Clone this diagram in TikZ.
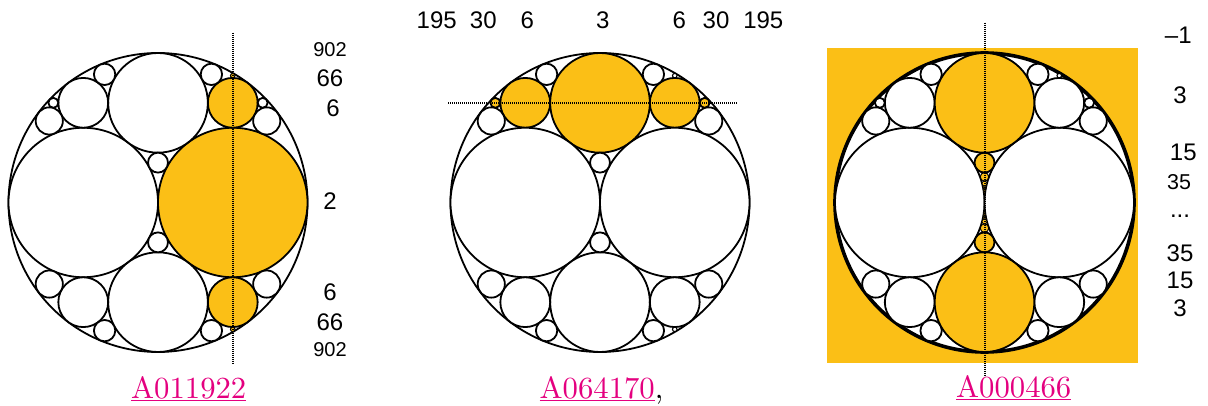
\documentclass[tikz,border=0pt]{standalone}
\usepackage{fontspec}
\newfontfamily\arialfont{Liberation Sans}
\newfontfamily\lmten{lmroman10-regular}[Extension=.otf]
\definecolor{gold}{RGB}{251,191,22}
\definecolor{linkpink}{RGB}{228,0,127}
\tikzset{
  circ/.style={draw=black, line width=1.8pt, fill=white},
  gcirc/.style={circ, fill=gold},
  tinygold/.style={draw=black, line width=1.1pt, fill=gold},
  tinywhite/.style={draw=black, line width=1.1pt, fill=white},
  seqline/.style={line width=1.7pt, dash pattern=on 1.1pt off 0.9pt},
  lab/.style={font=\arialfont\fontsize{24}{28}\selectfont, inner sep=0pt},
  slab/.style={font=\arialfont\fontsize{20}{24}\selectfont, inner sep=0pt},
  mlab/.style={font=\arialfont\fontsize{21.5}{24}\selectfont, inner sep=0pt},
  link/.style={font=\lmten\fontsize{30.7}{36}\selectfont, text=linkpink, inner sep=0pt, anchor=base west},
}
\newcommand\whitecircs[1]{\foreach \cx/\cy/\r in {#1} {\draw[circ] (\cx,\cy) circle[radius=\r];}}
\newcommand\goldcircs[1]{\foreach \cx/\cy/\r in {#1} {\draw[gcirc] (\cx,\cy) circle[radius=\r];}}
\newcommand\elevens{-0.72727/0.54545/0.090909, 0.72727/0.54545/0.090909, -0.72727/-0.54545/0.090909, 0.72727/-0.54545/0.090909}
\newcommand\fourteens{-0.35714/0.85714/0.071429, 0.35714/0.85714/0.071429, -0.35714/-0.85714/0.071429, 0.35714/-0.85714/0.071429}
\begin{document}
\begin{tikzpicture}[x=1pt,y=-1pt]
\path[use as bounding box] (0,0) rectangle (1208,406);

% ---------------- panel 1 ----------------
\begin{scope}[shift={(158,202.5)}, x=149.5pt, y=149.5pt]
  \draw[circ] (0,0) circle[radius=1];
  \goldcircs{0.5/0/0.5, 0.5/0.66667/0.166667, 0.5/-0.66667/0.166667}
  \whitecircs{-0.5/0/0.5, 0/0.66667/0.333333, 0/-0.66667/0.333333,
    -0.5/0.66667/0.166667, -0.5/-0.66667/0.166667,
    0/0.26667/0.066667, 0/-0.26667/0.066667,
    -0.7/0.66667/0.033333, 0.7/0.66667/0.033333}
  \foreach \cx/\cy/\r in \elevens {\draw[circ] (\cx,\cy) circle[radius=\r];}
  \foreach \cx/\cy/\r in \fourteens {\draw[circ] (\cx,\cy) circle[radius=\r];}
  \draw[tinygold] (0.5,0.84848) circle[radius=0.015152];
  \draw[tinygold] (0.5,-0.84848) circle[radius=0.015152];
\end{scope}
\coordinate (v1a) at (232.75,32.7);
\coordinate (v1b) at (232.75,363.3);
\draw[seqline] (v1a) -- (v1b);
\node[slab] (p1a) at (330,49.5) {902};
\node[lab] (p1b) at (330,78.3) {66};
\node[lab] (p1c) at (333,108.3) {6};
\node[lab] (p1d) at (330,201) {2};
\node[lab] (p1e) at (330,292.7) {6};
\node[lab] (p1f) at (330,322.7) {66};
\node[slab] (p1g) at (330,350) {902};
\node[link] (link1) at (131,398) {\underline{A011922}};

% ---------------- panel 2 ----------------
\begin{scope}[shift={(600,202.5)}, x=149.5pt, y=149.5pt]
  \draw[circ] (0,0) circle[radius=1];
  \goldcircs{0/0.66667/0.333333, -0.5/0.66667/0.166667, 0.5/0.66667/0.166667,
    -0.7/0.66667/0.033333, 0.7/0.66667/0.033333}
  \whitecircs{-0.5/0/0.5, 0.5/0/0.5, 0/-0.66667/0.333333,
    -0.5/-0.66667/0.166667, 0.5/-0.66667/0.166667,
    0/0.26667/0.066667, 0/-0.26667/0.066667}
  \foreach \cx/\cy/\r in \elevens {\draw[circ] (\cx,\cy) circle[radius=\r];}
  \foreach \cx/\cy/\r in \fourteens {\draw[circ] (\cx,\cy) circle[radius=\r];}
  \draw[tinywhite] (0.5,0.84848) circle[radius=0.015152];
  \draw[tinywhite] (0.5,-0.84848) circle[radius=0.015152];
\end{scope}
\coordinate (h2a) at (448.3,102.8);
\coordinate (h2b) at (736.7,102.8);
\draw[seqline] (h2a) -- (h2b);
\node[lab] (p2a) at (436.7,20.7) {195};
\node[lab] (p2b) at (483.3,20.7) {30};
\node[lab] (p2c) at (527.3,20.7) {6};
\node[lab] (p2d) at (602.7,20.7) {3};
\node[lab] (p2e) at (679.3,20.7) {6};
\node[lab] (p2f) at (716,20.7) {30};
\node[lab] (p2g) at (763.3,20.7) {195};
\node[link] (link2) at (539.5,398) {\underline{A064170}\textcolor{black}{,}};

% ---------------- panel 3 ----------------
\fill[gold] (827.3,47.7) rectangle (1138.3,363.3);
\begin{scope}[shift={(984.5,202.5)}, x=149.5pt, y=149.5pt]
  \draw[circ, line width=3.6pt] (0,0) circle[radius=1];
  \whitecircs{-0.5/0/0.5, 0.5/0/0.5,
    -0.5/0.66667/0.166667, 0.5/0.66667/0.166667,
    -0.5/-0.66667/0.166667, 0.5/-0.66667/0.166667,
    -0.7/0.66667/0.033333, 0.7/0.66667/0.033333}
  \foreach \cx/\cy/\r in \elevens {\draw[circ] (\cx,\cy) circle[radius=\r];}
  \foreach \cx/\cy/\r in \fourteens {\draw[circ] (\cx,\cy) circle[radius=\r];}
  \draw[tinywhite] (0.5,0.84848) circle[radius=0.015152];
  \goldcircs{0/0.66667/0.333333, 0/-0.66667/0.333333,
    0/0.26667/0.066667, 0/-0.26667/0.066667}
  \foreach \cy/\r/\w in {0.171429/0.028571/1.0, 0.126984/0.015873/0.7,
      0.10101/0.010101/0.5, 0.083916/0.006993/0.35, 0.071795/0.005128/0.3,
      0.062745/0.003922/0.25} {
    \draw[draw=black, fill=gold, line width=\w pt] (0,\cy) circle[radius=\r];
    \draw[draw=black, fill=gold, line width=\w pt] (0,-\cy) circle[radius=\r];
  }
\end{scope}
\coordinate (v3a) at (985,22.7);
\coordinate (v3b) at (985,376.7);
\draw[seqline] (v3a) -- (v3b);
\node[lab] (p3a) at (1178.3,35) {–1};
\node[lab] (p3b) at (1180,95) {3};
\node[lab] (p3c) at (1183.3,152.7) {15};
\node[mlab] (p3d) at (1179,181.7) {35};
\node[lab] (p3e) at (1180,216.7) {...};
\node[lab] (p3f) at (1180,253.3) {35};
\node[lab] (p3g) at (1180,280) {15};
\node[lab] (p3h) at (1180,308.3) {3};
\node[link] (link3) at (956,397) {\underline{A000466}};
\end{tikzpicture}
\end{document}
